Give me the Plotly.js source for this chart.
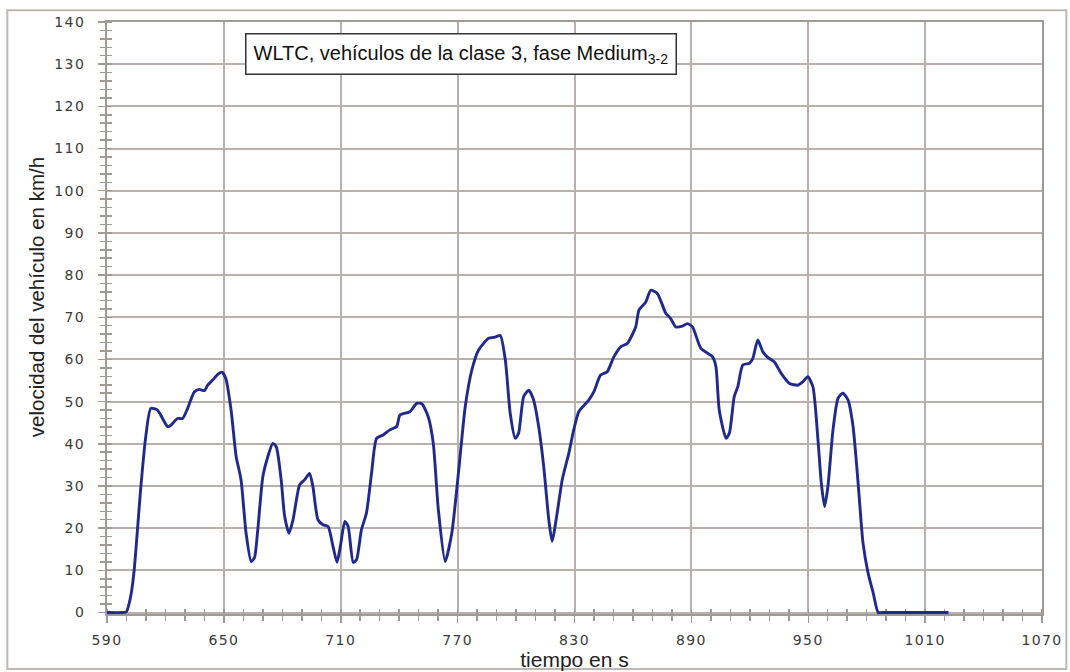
<!DOCTYPE html>
<html>
<head>
<meta charset="utf-8">
<script src="https://cdn.plot.ly/plotly-3.0.1.min.js"></script>
<style>
  html, body { margin: 0; padding: 0; background: #ffffff; }
  #chart { width: 1070px; height: 672px; }
  .xtick text, .ytick text { letter-spacing: 1.4px; }
</style>
</head>
<body>
<div id="chart"></div>
<script>
// --- data ---
var time_s = [
  590, 598, 600, 602.2, 603.9, 607.4, 609.9, 612.5, 615.9, 617.6, 621.1, 622.8, 626.2, 628.8,
  631.4, 634.8, 637.4, 640, 641.7, 644.2, 647, 649, 651, 653.7, 656.3, 658.8, 661.4,
  664, 665.7, 667.4, 670, 672.6, 675.1, 676.9, 679.4, 681.2, 683.4, 685.5, 688.9,
  691.5, 694, 695.7, 698.3, 700.9, 703.5, 706, 708.1, 709.8, 712.1, 713.8, 716.4,
  718.1, 720.6, 723.2, 725.8, 728.4, 731.8, 735.2, 738.7, 740.4, 745.5, 749, 751.6,
  754.9, 757.5, 760.1, 763.6, 767, 770.4, 773.9, 777.3, 780.7, 785.9, 789.3, 791.9,
  794.5, 797, 799.6, 801.3, 803.9, 806.5, 809, 811.6, 814.2, 816.8, 818.5, 821.1,
  823.7, 827.1, 829.6, 832.2, 837.4, 839.9, 843.4, 846.8, 850.2, 853.7, 857.1, 861.4,
  863.1, 866.6, 869.1, 872.6, 876.9, 879.4, 882, 885.4, 888, 890.6, 894.9, 900.9,
  902.6, 904.3, 907.8, 909.5, 912, 913.8, 916.4, 919.8, 921.5, 924.1, 926.7, 929.2,
  932.6, 936.1, 940.4, 944.7, 947.2, 949.8, 952.4, 955, 956.7, 958.4, 960.1, 962.7,
  965.3, 967.8, 970.4, 973, 975.6, 978.1, 980.7, 983.3, 985.9, 988, 1020, 1022
];
var speed_kmh = [
  0, 0, 0.2, 3.9, 9.8, 29.9, 41.7, 48.4, 48.0, 46.8, 44.1, 44.4, 46.0, 46.0,
  48.4, 52.3, 52.9, 52.6, 53.9, 55.1, 56.5, 57.0, 55.5, 48.0, 37.0, 31.5, 18.8,
  12.1, 13.0, 19.6, 32.2, 37.0, 40.1, 39.3, 31.5, 22.8, 18.8, 22.0, 30.3,
  31.5, 33.0, 29.9, 22.0, 20.8, 20.4, 15.7, 11.9, 15.7, 21.6, 20.4, 11.9,
  12.5, 19.6, 23.6, 33.0, 41.3, 42.1, 43.3, 44.1, 46.8, 47.6, 49.6, 49.5,
  46.4, 40.1, 24.4, 12.1, 18.8, 33.0, 48.8, 57.5, 62.2, 65.0, 65.3, 65.7,
  59.8, 47.2, 41.3, 42.5, 51.2, 52.7, 50.4, 44.1, 34.6, 22.0, 16.9, 23.6,
  31.5, 37.8, 43.3, 47.6, 50.4, 52.3, 56.3, 57.1, 60.6, 63.0, 63.8, 67.7,
  71.7, 73.6, 76.4, 75.6, 70.9, 69.7, 67.7, 67.9, 68.5, 67.7, 62.6, 60.6,
  58.3, 48.0, 41.3, 42.5, 51.2, 53.5, 58.7, 59.1, 60.2, 64.6, 61.8, 60.5,
  59.4, 56.7, 54.3, 53.9, 54.7, 55.9, 53.5, 40.9, 30.7, 25.1, 29.9, 43.3,
  50.8, 52.0, 50.4, 44.1, 30.7, 16.5, 9.4, 4.7, 0, 0, 0, 0
];
var xTickVals = [590, 650, 710, 770, 830, 890, 950, 1010, 1070];
var yTickVals = [0, 10, 20, 30, 40, 50, 60, 70, 80, 90, 100, 110, 120, 130, 140];
var chartLabel = 'WLTC, vehículos de la clase 3, fase Medium<sub>3-2</sub>';
var xTitle = 'tiempo en s';
var yTitle = 'velocidad del vehículo en km/h';

var gridCol = 'rgb(184,177,173)';
var tickCol = 'rgb(160,154,150)';
var tickFont = {family: 'DejaVu Sans', size: 14, color: '#3a3a3a'};
var yRange = [-0.35, 140];

var traces = [
  {
    x: time_s, y: speed_kmh, type: 'scatter', mode: 'lines',
    line: {color: 'rgb(32,42,140)', width: 2.9, shape: 'spline', smoothing: 0.6},
    cliponaxis: false, hoverinfo: 'x+y', showlegend: false
  },
  { x: [], y: [], xaxis: 'x2', yaxis: 'y2', type: 'scatter', mode: 'lines', showlegend: false, hoverinfo: 'skip' }
];

var layout = {
  width: 1070, height: 672,
  margin: {l: 107, r: 28, t: 22, b: 57.5, pad: 0},
  paper_bgcolor: '#ffffff', plot_bgcolor: '#ffffff',
  showlegend: false,
  xaxis: {
    range: [590, 1070], tickmode: 'array', tickvals: xTickVals, ticktext: xTickVals.map(String),
    showgrid: true, gridcolor: gridCol, gridwidth: 2, layer: 'below traces',
    showline: true, linecolor: tickCol, linewidth: 2, mirror: true,
    ticks: 'outside', ticklen: 7, tickwidth: 1.5, tickcolor: tickCol,
    minor: {dtick: 10, tick0: 590, ticks: 'outside', ticklen: 5, tickwidth: 1.5, tickcolor: tickCol, showgrid: false},
    tickfont: tickFont, ticklabelstandoff: 5,
    zeroline: false, automargin: false,
    title: {text: xTitle, font: {family: 'Liberation Sans', size: 21, color: '#222222'}, standoff: 0}
  },
  yaxis: {
    range: yRange, tickmode: 'array', tickvals: yTickVals, ticktext: yTickVals.map(String),
    showgrid: true, gridcolor: gridCol, gridwidth: 2, layer: 'below traces',
    showline: true, linecolor: tickCol, linewidth: 2, mirror: true,
    ticks: 'outside', ticklen: 7, tickwidth: 1.5, tickcolor: tickCol,
    minor: {dtick: 2, tick0: 0, ticks: 'outside', ticklen: 5, tickwidth: 1.5, tickcolor: tickCol, showgrid: false},
    tickfont: tickFont, ticklabelstandoff: 10,
    zeroline: false, automargin: false
  },
  xaxis2: {
    overlaying: 'x', anchor: 'y2', side: 'bottom', range: [590, 1070], layer: 'below traces',
    showgrid: false, showline: false, zeroline: false, showticklabels: false,
    tickmode: 'array', tickvals: [],
    minor: {dtick: 10, tick0: 590, ticks: 'inside', ticklen: 5, tickwidth: 1.5, tickcolor: tickCol, showgrid: false}
  },
  yaxis2: {
    overlaying: 'y', anchor: 'x2', side: 'left', range: yRange, layer: 'below traces',
    showgrid: false, showline: false, zeroline: false, showticklabels: false,
    tickmode: 'array', tickvals: [],
    minor: {dtick: 2, tick0: 0, ticks: 'inside', ticklen: 5, tickwidth: 1.5, tickcolor: tickCol, showgrid: false}
  },
  annotations: [
    {
      text: chartLabel, xref: 'x', yref: 'y', x: 771.5, y: 132.4,
      showarrow: false, xanchor: 'center', yanchor: 'middle',
      font: {family: 'Liberation Sans', size: 20, color: '#111111'},
      bgcolor: '#ffffff', bordercolor: '#333333', borderwidth: 1.5, borderpad: 7
    },
    {
      text: yTitle, xref: 'paper', yref: 'paper', x: -0.076, y: 0.535,
      textangle: -90, showarrow: false, xanchor: 'center', yanchor: 'middle',
      font: {family: 'Liberation Sans', size: 20.5, color: '#222222'}
    }
  ],
  shapes: [
    {type: 'rect', xref: 'paper', yref: 'paper', x0: -0.1066, x1: 1.026, y0: -0.093, y1: 1.0198,
     line: {color: 'rgb(190,184,180)', width: 2}, fillcolor: 'rgba(0,0,0,0)', layer: 'below'}
  ]
};

Plotly.newPlot('chart', traces, layout, {displayModeBar: false, staticPlot: true});
</script>
</body>
</html>
